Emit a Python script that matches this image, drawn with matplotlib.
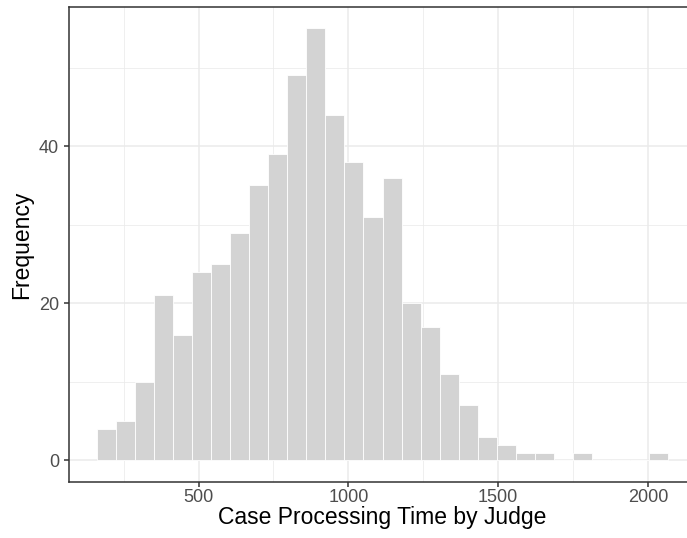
import numpy as np
import matplotlib
matplotlib.use("Agg")
import matplotlib.pyplot as plt
from matplotlib import rcParams
from matplotlib.ticker import MultipleLocator

rcParams['font.family'] = ['Liberation Sans', 'DejaVu Sans']

# Histogram counts (30 bins)
counts = [4, 5, 10, 21, 16, 24, 25, 29, 35, 39,
          49, 55, 44, 38, 31, 36, 20, 17, 11, 7,
          3, 2, 1, 1, 0, 1, 0, 0, 0, 1]
bin_start = 161.5
bin_width = 63.5
x_ticks = [500, 1000, 1500, 2000]
y_ticks = [0, 20, 40]

edges = bin_start + bin_width * np.arange(len(counts) + 1)

fig = plt.figure(figsize=(6.87, 5.38), dpi=100)
# panel runs past the right edge of the image, like the reference
ax = fig.add_axes([68.7 / 687, 56 / 538, 627.6 / 687, 475.3 / 538])

ax.bar(edges[:-1], counts, width=bin_width, align='edge',
       color='#D3D3D3', edgecolor='white', linewidth=0.6, zorder=2)

# ggplot-like expansion of 5 %
xr = edges[-1] - edges[0]
ax.set_xlim(edges[0] - 0.05 * xr, edges[-1] + 0.05 * xr)
ax.set_ylim(-0.05 * max(counts), max(counts) * 1.05)

ax.set_xticks(x_ticks)
ax.set_yticks(y_ticks)
ax.xaxis.set_minor_locator(MultipleLocator(250))
ax.yaxis.set_minor_locator(MultipleLocator(10))
ax.grid(which='major', color='#EBEBEB', linewidth=1.1)
ax.grid(which='minor', color='#EBEBEB', linewidth=0.55)
ax.set_axisbelow(True)

for s in ax.spines.values():
    s.set_color('#333333')
    s.set_linewidth(1.1)

ax.tick_params(which='major', length=3.5, width=1.1, color='#333333',
               labelcolor='#4D4D4D', labelsize=13)
ax.tick_params(axis='x', which='major', pad=1.5)
ax.tick_params(axis='y', which='major', pad=3.5)
ax.tick_params(which='minor', length=0)

ax.set_xlabel("Case Processing Time by Judge", fontsize=16.5, color='black', labelpad=0)
ax.set_ylabel("Frequency", fontsize=16.5, color='black', labelpad=4)

fig.savefig("out.png", dpi=100)
